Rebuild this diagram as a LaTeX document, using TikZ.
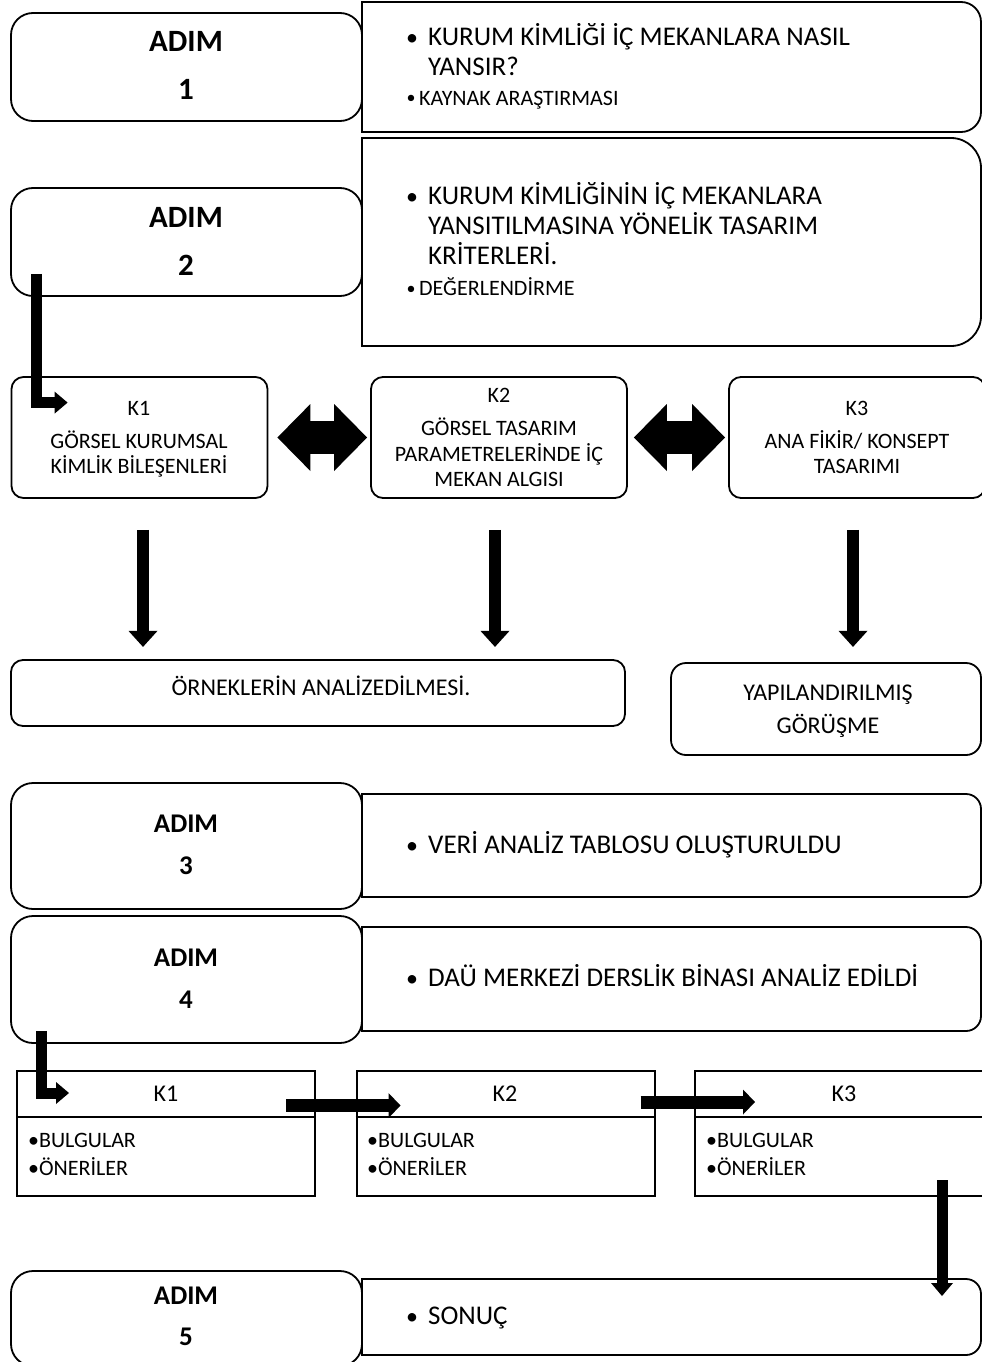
\documentclass[tikz,border=0pt]{standalone}
\usepackage{fontspec}
\setmainfont{Carlito}
\usetikzlibrary{arrows.meta}
\newcommand{\fsz}[1]{\fontsize{#1}{#1}\selectfont}
\newcommand{\rbox}[3]{\draw[line width=1.8pt, fill=white] (362,#1) -- ({981-#3},#1) arc[start angle=-90,end angle=0,radius=#3] -- (981,{#2-#3}) arc[start angle=0,end angle=90,radius=#3] -- (362,#2) -- cycle;}
\begin{document}
\begin{tikzpicture}[x=1pt,y=-1pt,
  abox/.style={draw, line width=1.8pt, fill=white, rounded corners=22pt, minimum width=351pt, inner sep=0pt},
  kbox/.style={draw, line width=1.8pt, fill=white, rounded corners=12pt, minimum width=256pt, minimum height=121pt, inner sep=0pt},
  sbox/.style={draw, line width=2pt, fill=white, minimum width=298pt, minimum height=125pt, inner sep=0pt},
  tb/.style={inner sep=0pt, anchor=base, font={\fsz{31}\bfseries}},
  tbs/.style={inner sep=0pt, anchor=base, font={\fsz{27}\bfseries}},
  tl/.style={inner sep=0pt, anchor=base west, font={\fsz{27}}},
  ts/.style={inner sep=0pt, anchor=base west, font={\fsz{22}}},
  tc/.style={inner sep=0pt, anchor=base, font={\fsz{22}}},
  tm/.style={inner sep=0pt, anchor=base, font={\fsz{24}}},
  bul/.style={inner sep=0pt, anchor=base, font={\fsz{24}}},
  buls/.style={inner sep=0pt, anchor=base, font={\fsz{18}}},
  dbl/.style={line width=33pt, {Triangle[width=67pt,length=33pt,line width=0pt]}-{Triangle[width=67pt,length=33pt,line width=0pt]}},
  dn/.style={line width=12pt, -{Triangle[width=29pt,length=16pt,line width=0pt]}},
  lar/.style={line width=11pt, -{Triangle[width=22pt,length=13pt,line width=0pt]}},
  har/.style={line width=13pt, -{Triangle[width=25pt,length=12pt,line width=0pt]}}
]
\useasboundingbox (0,0) rectangle (982,1362);
\clip (0,0) rectangle (982,1362);
\fill[white] (0,0) rectangle (982,1362);

% right boxes
\rbox{2}{132}{20}
\rbox{138}{346}{30}
\rbox{794}{897}{15}
\rbox{927}{1031}{15}
\rbox{1279}{1355}{15}

% step boxes
\node[abox, minimum height=108pt] (a1) at (186.5,67) {};
\node[abox, minimum height=108pt] (a2) at (186.5,242) {};
\node[abox, minimum height=126pt] (a3) at (186.5,846) {};
\node[abox, minimum height=127pt] (a4) at (186.5,979.5) {};
\node[abox, minimum height=95pt] (a5) at (186.5,1318.5) {};

\node[tb] (a1t) at (186,52) {ADIM};
\node[tb] (a1n) at (186,100) {1};
\node[tb] (a2t) at (186,227) {ADIM};
\node[tb] (a2n) at (186,275) {2};
\node[tbs] (a3t) at (186,832.7) {ADIM};
\node[tbs] (a3n) at (186,874.7) {3};
\node[tbs] (a4t) at (186,966.7) {ADIM};
\node[tbs] (a4n) at (186,1008.7) {4};
\node[tbs] (a5t) at (186,1304.7) {ADIM};
\node[tbs] (a5n) at (186,1345.7) {5};

% right texts
\node[bul] (r1b) at (412,45.7) {•};
\node[tl] (r1a) at (428,45.7) {KURUM KİMLİĞİ İÇ MEKANLARA NASIL};
\node[tl] (r1c) at (428,75.7) {YANSIR?};
\node[buls] (r1d) at (411,104) {•};
\node[ts] (r1e) at (419,105.1) {KAYNAK ARAŞTIRMASI};

\node[bul] (r2b) at (412,204.7) {•};
\node[tl] (r2a) at (428,204.7) {KURUM KİMLİĞİNİN İÇ MEKANLARA};
\node[tl] (r2c) at (428,234.7) {YANSITILMASINA YÖNELİK TASARIM};
\node[tl] (r2d) at (428,264.7) {KRİTERLERİ.};
\node[buls] (r2e) at (411,294) {•};
\node[ts] (r2f) at (419,295.1) {DEĞERLENDİRME};

\node[bul] (r3b) at (412,853.7) {•};
\node[tl] (r3a) at (428,853.7) {VERİ ANALİZ TABLOSU OLUŞTURULDU};
\node[bul] (r4b) at (412,986.7) {•};
\node[tl] (r4a) at (428,986.7) {DAÜ MERKEZİ DERSLİK BİNASI ANALİZ EDİLDİ};
\node[bul] (r5b) at (412,1324.7) {•};
\node[tl] (r5a) at (428,1324.7) {SONUÇ};

% K boxes (top)
\node[kbox] (k1) at (139.5,437.5) {};
\node[kbox] (k2) at (499,437.5) {};
\node[kbox] (k3) at (857,437.5) {};
\node[tc] (k1a) at (139,415.1) {K1};
\node[tc] (k1b) at (139,448.1) {GÖRSEL KURUMSAL};
\node[tc] (k1c) at (139,473.1) {KİMLİK BİLEŞENLERİ};
\node[tc] (k2a) at (499,402.1) {K2};
\node[tc] (k2b) at (499,435.1) {GÖRSEL TASARIM};
\node[tc] (k2c) at (499,461.1) {PARAMETRELERİNDE İÇ};
\node[tc] (k2d) at (499,486.1) {MEKAN ALGISI};
\node[tc] (k3a) at (857,415.1) {K3};
\node[tc] (k3b) at (857,448.1) {ANA FİKİR/ KONSEPT};
\node[tc] (k3c) at (857,473.1) {TASARIMI};

% analysis boxes
\node[draw, line width=1.8pt, fill=white, rounded corners=12pt, minimum width=614pt, minimum height=66pt, inner sep=0pt] (orn) at (318,693) {};
\node[tm] (ornt) at (321,695.7) {ÖRNEKLERİN ANALİZEDİLMESİ.};
\node[draw, line width=1.8pt, fill=white, rounded corners=15pt, minimum width=310pt, minimum height=92pt, inner sep=0pt] (yap) at (826,709) {};
\node[tm] (yapa) at (828,700.7) {YAPILANDIRILMIŞ};
\node[tm] (yapb) at (828,733.7) {GÖRÜŞME};

% bottom K boxes
\node[sbox] (b1) at (166,1133.5) {};
\node[sbox] (b2) at (505.5,1133.5) {};
\node[sbox] (b3) at (844,1133.5) {};
\foreach \b in {b1,b2,b3}{
  \draw[line width=2pt] ([yshift=-47pt]\b.north west) -- ([yshift=-47pt]\b.north east);
}
\node[tm] (b1h) at (166,1101.7) {K1};
\node[tm] (b2h) at (505,1101.7) {K2};
\node[tm] (b3h) at (844,1101.7) {K3};
\node[ts] (b1a) at (28,1147.1) {•BULGULAR};
\node[ts] (b1b) at (28,1175.1) {•ÖNERİLER};
\node[ts] (b2a) at (367,1147.1) {•BULGULAR};
\node[ts] (b2b) at (367,1175.1) {•ÖNERİLER};
\node[ts] (b3a) at (706,1147.1) {•BULGULAR};
\node[ts] (b3b) at (706,1175.1) {•ÖNERİLER};

% connectors
\draw[lar] ([xshift=26pt,yshift=23pt]a2.south west) |- ([xshift=57pt,yshift=-26.5pt]k1.north west);
\draw[dbl] ([xshift=9pt]k1.east) -- ([xshift=-3pt]k2.west);
\draw[dbl] ([xshift=6pt]k2.east) -- ([xshift=-3pt]k3.west);
\draw[dn] ([xshift=3.5pt,yshift=-31pt]k1.south) -- ++(0,117);
\draw[dn] ([xshift=-4pt,yshift=-31pt]k2.south) -- ++(0,117);
\draw[dn] ([xshift=-4pt,yshift=-31pt]k3.south) -- ++(0,117);
\draw[lar] ([xshift=31pt,yshift=13pt]a4.south west) |- ([xshift=53pt,yshift=-23pt]b1.north west);
\draw[har] ([xshift=-30pt,yshift=-35.5pt]b1.north east) -- ([xshift=45pt,yshift=-35.5pt]b2.north west);
\draw[har] ([xshift=-15pt,yshift=-32pt]b2.north east) -- ([xshift=61pt,yshift=-32pt]b3.north west);
\draw[lar] ([xshift=98pt,yshift=17pt]b3.south) -- ++(0,116);
\end{tikzpicture}
\end{document}
